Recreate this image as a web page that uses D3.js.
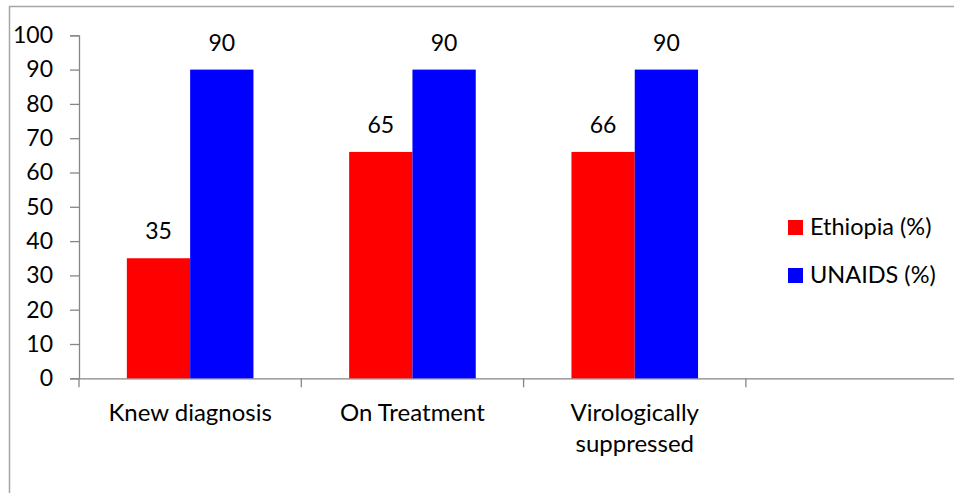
<!DOCTYPE html>
<html>
<head>
<meta charset="utf-8">
<script src="https://cdn.jsdelivr.net/npm/d3@7/dist/d3.min.js"></script>
<style>
  html, body { margin: 0; padding: 0; background: #fff; }
  svg { display: block; }
  text { font-family: Lato, "Open Sans", sans-serif; fill: #000; }
</style>
</head>
<body>
<svg id="chart" width="954" height="493"></svg>
<script>
const categories = ["Knew diagnosis", "On Treatment", "Virologically suppressed", ""];
const categoryLines = [["Knew diagnosis"], ["On Treatment"], ["Virologically", "suppressed"], []];
const seriesNames = ["Ethiopia (%)", "UNAIDS (%)"];
const ethiopiaValues = [35, 66, 66, null];
const ethiopiaLabels = ["35", "65", "66", ""];
const unaidsValues = [90, 90, 90, null];
const unaidsLabels = ["90", "90", "90", ""];
const yTicks = [0, 10, 20, 30, 40, 50, 60, 70, 80, 90, 100];
const colors = ["#ff0000", "#0000ff"];

const series = [
  { name: seriesNames[0], values: ethiopiaValues, labels: ethiopiaLabels, color: colors[0] },
  { name: seriesNames[1], values: unaidsValues, labels: unaidsLabels, color: colors[1] }
];

const svg = d3.select("#chart");
const fontSize = 23;

// outer chart border
svg.append("rect")
  .attr("x", 9.5).attr("y", 6.5)
  .attr("width", 1000).attr("height", 1000)
  .attr("fill", "none").attr("stroke", "#a6a6a6").attr("stroke-width", 1.5);

const x0 = 79, bandW = 222.3;
const x = d3.scaleBand().domain(categories).range([x0, x0 + bandW * categories.length]).padding(0);
const y = d3.scaleLinear().domain([0, 100]).range([378.3, 35.3]);
const barW = 63.3;
const xs = d3.scaleBand().domain(seriesNames).range([0, barW * 2]).padding(0);
const groupOffset = (x.bandwidth() - barW * 2) / 2;

// y axis
const yAxis = d3.axisLeft(y).tickValues(yTicks).tickSize(9).tickPadding(17).tickFormat(d3.format("d"));
const gy = svg.append("g").attr("transform", `translate(${x0},0)`).call(yAxis);
gy.select(".domain").attr("stroke", "#868686").attr("stroke-width", 1.3);
gy.selectAll(".tick line").attr("stroke", "#868686").attr("stroke-width", 1.3);
gy.selectAll(".tick text").attr("font-size", fontSize).attr("font-family", "Lato").attr("fill", "#000");

// x axis
const xAxis = d3.axisBottom(x).tickValues([]).tickSizeOuter(0);
const gx = svg.append("g").attr("transform", `translate(0,${y(0)})`).call(xAxis);
gx.select(".domain").attr("stroke", "#868686").attr("stroke-width", 1.3);
// category boundary ticks
const boundaries = categories.map((c, i) => x0 + bandW * i);
gx.selectAll("line.bt").data(boundaries).enter().append("line")
  .attr("class", "bt")
  .attr("x1", d => d).attr("x2", d => d)
  .attr("y1", 0).attr("y2", 9)
  .attr("stroke", "#868686").attr("stroke-width", 1.3);

// bars
series.forEach(s => {
  const g = svg.append("g");
  categories.forEach((c, i) => {
    if (s.values[i] == null) return;
    const bx = x(c) + groupOffset + xs(s.name);
    g.append("rect")
      .attr("x", bx).attr("y", y(s.values[i]))
      .attr("width", xs.bandwidth()).attr("height", y(0) - y(s.values[i]))
      .attr("fill", s.color);
    g.append("text")
      .attr("x", bx + xs.bandwidth() / 2)
      .attr("y", y(s.values[i]) - 19)
      .attr("text-anchor", "middle")
      .attr("font-size", fontSize)
      .text(s.labels[i]);
  });
});

// category labels
categories.forEach((c, i) => {
  const t = svg.append("text")
    .attr("x", x(c) + x.bandwidth() / 2)
    .attr("y", 420.5)
    .attr("text-anchor", "middle")
    .attr("font-size", 24);
  categoryLines[i].forEach((line, j) => {
    t.append("tspan").attr("x", x(c) + x.bandwidth() / 2).attr("dy", j === 0 ? 0 : 31).text(line);
  });
});

// legend
const legend = svg.append("g").attr("transform", "translate(788,220)");
series.forEach((s, i) => {
  const g = legend.append("g").attr("transform", `translate(0,${i * 48})`);
  g.append("rect").attr("width", 15).attr("height", 15).attr("fill", s.color);
  g.append("text").attr("x", 22).attr("y", 14.5).attr("font-size", 23.5).text(s.name);
});
</script>
</body>
</html>
